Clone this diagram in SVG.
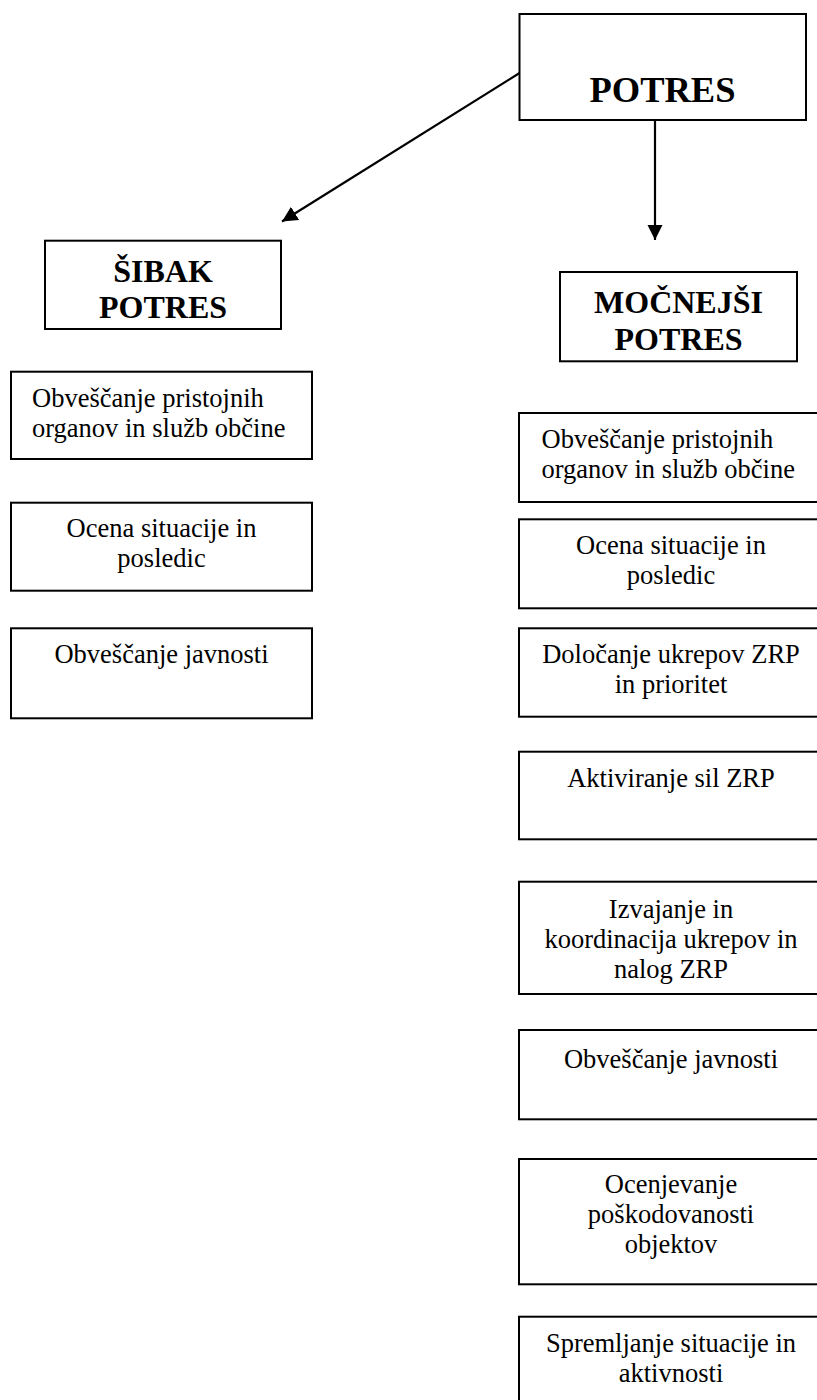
<svg xmlns="http://www.w3.org/2000/svg" width="817" height="1400" viewBox="0 0 817 1400">
<style>
.box{fill:#fff;stroke:#000;stroke-width:2}
.t{font-family:"Liberation Serif","Times New Roman",serif;font-size:26.5px;fill:#000}
.c{text-anchor:middle}
.h{font-family:"Liberation Serif","Times New Roman",serif;font-weight:bold;font-size:32px;fill:#000;text-anchor:middle}
.conn{stroke:#000;stroke-width:2.2;fill:none}
</style>
<defs>
<marker id="ah" viewBox="0 0 10 10" refX="10" refY="5" markerWidth="7" markerHeight="7" markerUnits="strokeWidth" orient="auto">
<path d="M0,0 L10,5 L0,10 z" fill="#000"/>
</marker>
</defs>
<rect width="817" height="1400" fill="#fff"/>
<g id="connectors">
<line class="conn" x1="520" y1="72.7" x2="282" y2="221.5" marker-end="url(#ah)"/>
<line class="conn" x1="655" y1="120" x2="655" y2="240" marker-end="url(#ah)"/>
</g>
<g id="potres">
<rect class="box" x="519.5" y="14" width="286.5" height="106"/>
<text class="h" x="662.5" y="101.5" style="font-size:36.5px">POTRES</text>
</g>
<g id="sibak">
<rect class="box" x="45" y="240.7" width="236" height="88.3"/>
<text class="h" x="163" y="281.7">ŠIBAK</text>
<text class="h" x="163" y="318.3">POTRES</text>
</g>
<g id="mocnejsi">
<rect class="box" x="560" y="272" width="237" height="89.3"/>
<text class="h" x="678.5" y="313.3">MOČNEJŠI</text>
<text class="h" x="678.5" y="349.5">POTRES</text>
</g>
<g id="l1">
<rect class="box" x="11" y="371.7" width="301" height="87.3"/>
<text class="t" x="32" y="406.7">Obveščanje pristojnih</text>
<text class="t" x="32" y="436.7">organov in služb občine</text>
</g>
<g id="l2">
<rect class="box" x="11" y="502.7" width="301" height="88"/>
<text class="t c" x="161.5" y="536.7">Ocena situacije in</text>
<text class="t c" x="161.5" y="566.7">posledic</text>
</g>
<g id="l3">
<rect class="box" x="11" y="628.3" width="301" height="90"/>
<text class="t c" x="161.5" y="663.3">Obveščanje javnosti</text>
</g>
<g id="r1">
<rect class="box" x="519" y="413" width="304" height="89"/>
<text class="t" x="541.5" y="448.3">Obveščanje pristojnih</text>
<text class="t" x="541.5" y="478.3">organov in služb občine</text>
</g>
<g id="r2">
<rect class="box" x="519" y="519.3" width="304" height="89"/>
<text class="t c" x="671" y="554.3">Ocena situacije in</text>
<text class="t c" x="671" y="584.3">posledic</text>
</g>
<g id="r3">
<rect class="box" x="519" y="628.3" width="304" height="88.4"/>
<text class="t c" x="671" y="663.3">Določanje ukrepov ZRP</text>
<text class="t c" x="671" y="693.3">in prioritet</text>
</g>
<g id="r4">
<rect class="box" x="519" y="751.7" width="304" height="87.6"/>
<text class="t c" x="671" y="786.7">Aktiviranje sil ZRP</text>
</g>
<g id="r5">
<rect class="box" x="519" y="881.7" width="304" height="112.3"/>
<text class="t c" x="671" y="918.3">Izvajanje in</text>
<text class="t c" x="671" y="948.3">koordinacija ukrepov in</text>
<text class="t c" x="671" y="978.3">nalog ZRP</text>
</g>
<g id="r6">
<rect class="box" x="519" y="1030" width="304" height="89.3"/>
<text class="t c" x="671" y="1068.3">Obveščanje javnosti</text>
</g>
<g id="r7">
<rect class="box" x="519" y="1159" width="304" height="125.3"/>
<text class="t c" x="671" y="1193.3">Ocenjevanje</text>
<text class="t c" x="671" y="1223.3">poškodovanosti</text>
<text class="t c" x="671" y="1253.3">objektov</text>
</g>
<g id="r8">
<rect class="box" x="519" y="1316.7" width="304" height="100"/>
<text class="t c" x="671" y="1351.7">Spremljanje situacije in</text>
<text class="t c" x="671" y="1381.7">aktivnosti</text>
</g>
</svg>
